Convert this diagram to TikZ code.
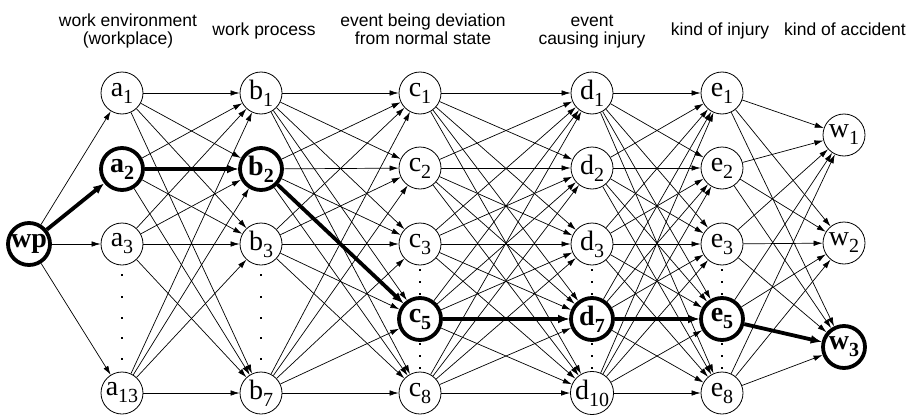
\documentclass[tikz,border=0pt]{standalone}
\usepackage{fontspec}
\setmainfont{Liberation Serif}
\newfontfamily\hdrfont{Liberation Sans}
\usetikzlibrary{arrows.meta}
\newcommand\sbs[1]{\raisebox{-0.25em}{\fontsize{20}{20}\selectfont #1}}
\begin{document}
\begin{tikzpicture}[x=1pt,y=-1pt,
  nd/.style={circle,draw,fill=white,line width=0.8pt,minimum size=42pt,inner sep=0pt,font=\fontsize{28}{28}\selectfont},
  bnd/.style={nd,line width=3.8pt,font=\fontsize{28}{28}\selectfont\bfseries},
  hd/.style={font=\hdrfont\fontsize{17.5}{17.5}\selectfont,align=center,anchor=base,inner sep=0pt},
  ed/.style={line width=0.7pt,-{Latex[length=9pt,width=5.5pt]}},
  bed/.style={line width=3.8pt,-{Latex[length=11pt,width=9pt]}},
  dt/.style={fill=black,inner sep=0pt,minimum size=2pt}
]
\useasboundingbox (0,0) rectangle (907,415);
% headers (base anchor = last line baseline)
\node[hd] (h1) at (128,44) {work environment\\(workplace)};
\node[hd] (h2) at (264,35) {work process};
\node[hd] (h3) at (423,44) {event being deviation\\from normal state};
\node[hd] (h4) at (592,44) {event\\causing injury};
\node[hd] (h5) at (720,35) {kind of injury};
\node[hd] (h6) at (845,35) {kind of accident};
% dots
\foreach \x in {122,261} \foreach \y in {275,297,318,338,359} \node[dt] at (\x,\y) {};
\foreach \x in {420,592,722} \foreach \y in {270,282,294,344,356,368} \node[dt] at (\x,\y) {};
% nodes
\node[bnd] (wp) at (29,244) {wp};
\node[nd] (a1) at (122,93) {a\sbs{1}};
\node[bnd] (a2) at (122,169) {a\sbs{2}};
\node[nd] (a3) at (122,244) {a\sbs{3}};
\node[nd] (a13) at (122,393) {a\sbs{13}};
\node[nd] (b1) at (261,93) {b\sbs{1}};
\node[bnd] (b2) at (261,169) {b\sbs{2}};
\node[nd] (b3) at (261,244) {b\sbs{3}};
\node[nd] (b7) at (261,393) {b\sbs{7}};
\node[nd] (c1) at (420,93) {c\sbs{1}};
\node[nd] (c2) at (420,168) {c\sbs{2}};
\node[nd] (c3) at (420,244) {c\sbs{3}};
\node[bnd] (c5) at (420,319) {c\sbs{5}};
\node[nd] (c8) at (420,393) {c\sbs{8}};
\node[nd] (d1) at (592,93) {d\sbs{1}};
\node[nd] (d2) at (592,168) {d\sbs{2}};
\node[nd] (d3) at (592,244) {d\sbs{3}};
\node[bnd] (d7) at (592,319) {d\sbs{7}};
\node[nd] (d10) at (592,393) {d\sbs{10}};
\node[nd] (e1) at (722,93) {e\sbs{1}};
\node[nd] (e2) at (722,168) {e\sbs{2}};
\node[nd] (e3) at (722,244) {e\sbs{3}};
\node[bnd] (e5) at (722,319) {e\sbs{5}};
\node[nd] (e8) at (722,393) {e\sbs{8}};
\node[nd] (w1) at (844,135) {w\sbs{1}};
\node[nd] (w2) at (844,243) {w\sbs{2}};
\node[bnd] (w3) at (844,347) {w\sbs{3}};
% thin edges
\foreach \t in {a1,a3,a13} \draw[ed] (wp) -- (\t);
\foreach \s in {a1,a2,a3,a13} \foreach \t in {b1,b2,b3,b7} \draw[ed] (\s) -- (\t);
\foreach \s in {b1,b2,b3,b7} \foreach \t in {c1,c2,c3,c5,c8} \draw[ed] (\s) -- (\t);
\foreach \s in {c1,c2,c3,c5,c8} \foreach \t in {d1,d2,d3,d7,d10} \draw[ed] (\s) -- (\t);
\foreach \s in {d1,d2,d3,d7,d10} \foreach \t in {e1,e2,e3,e5,e8} \draw[ed] (\s) -- (\t);
\foreach \s in {e1,e2,e3,e5,e8} \foreach \t in {w1,w2,w3} \draw[ed] (\s) -- (\t);
% thick path
\draw[bed] (wp) -- (a2);
\draw[bed] (a2) -- (b2);
\draw[bed] (b2) -- (c5);
\draw[bed] (c5) -- (d7);
\draw[bed] (d7) -- (e5);
\draw[bed] (e5) -- (w3);
\end{tikzpicture}
\end{document}
